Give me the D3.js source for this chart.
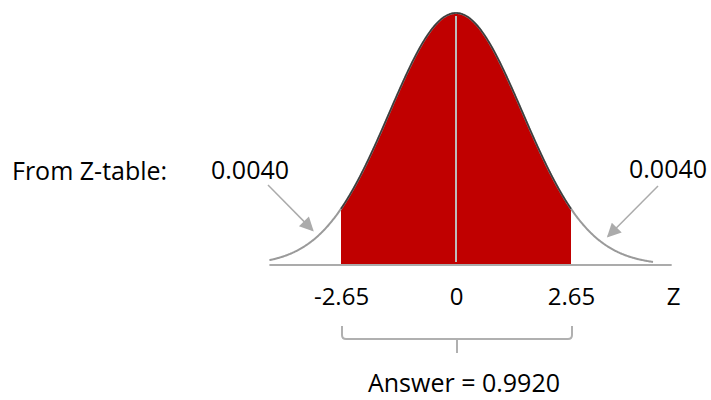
<!DOCTYPE html>
<html>
<head>
<meta charset="utf-8">
<script src="https://cdn.jsdelivr.net/npm/d3@7"></script>
<style>
  body { margin: 0; background: #fff; }
  text { font-family: "Open Sans", sans-serif; fill: #000; }
</style>
</head>
<body>
<div id="chart"></div>
<script>
const width = 711
const height = 400

// chart values
const zCritical = [-2.65, 2.65]
const tickValues = [-2.65, 0, 2.65]
const tailLabels = ["0.0040", "0.0040"]
const tableLabel = "From Z-table:"
const answerLabel = "Answer = 0.9920"
const axisLabel = "Z"
const curveMean = 0
const curveSd = 1.53          // schematic spread of the drawn bell
const curveExtent = [-4.3, 4.55]
const axisExtent = [-4.3, 4.97]

const x = d3.scaleLinear()
            .domain(zCritical)
            .range([341, 571])
const y = d3.scaleLinear()
            .domain([0, 1])
            .range([265, 13])

const bell = z => Math.exp(-((z - curveMean) ** 2) / (2 * curveSd * curveSd))

const curvePts = d3.range(curveExtent[0], curveExtent[1] + 0.001, 0.02).map(z => [z, bell(z)])
const inside = curvePts.filter(d => d[0] >= zCritical[0] && d[0] <= zCritical[1])
inside.unshift([zCritical[0], bell(zCritical[0])])
inside.push([zCritical[1], bell(zCritical[1])])

const svg = d3.select("#chart")
              .append("svg")
              .attr("width", width)
              .attr("height", height)

// red shaded area
const area = d3.area()
               .x(d => x(d[0]))
               .y0(y(0))
               .y1(d => y(d[1]))
svg.append("path")
   .datum(inside)
   .attr("d", area)
   .attr("fill", "#c00000")

const line = d3.line()
               .x(d => x(d[0]))
               .y(d => y(d[1]))
               .curve(d3.curveBasis)

// centre line
svg.append("line")
   .attr("x1", x(curveMean)).attr("x2", x(curveMean))
   .attr("y1", y(0) - 3).attr("y2", y(bell(curveMean)) + 3)
   .attr("stroke", "#bdbdbd")
   .attr("stroke-width", 2)

// baseline
svg.append("line")
   .attr("x1", x(axisExtent[0])).attr("x2", x(axisExtent[1]))
   .attr("y1", y(0)).attr("y2", y(0))
   .attr("stroke", "#ababab")
   .attr("stroke-width", 2)

// bell curve
svg.append("path")
   .datum(curvePts)
   .attr("d", line)
   .attr("fill", "none")
   .attr("stroke", "#9a9a9a")
   .attr("stroke-width", 2)
svg.append("path")
   .datum(inside)
   .attr("d", line)
   .attr("fill", "none")
   .attr("stroke", "#3c3c3c")
   .attr("stroke-width", 1.6)

// tick labels
const axis = d3.axisBottom(x)
               .tickValues(tickValues)
               .tickSize(0)
               .tickPadding(23)
               .tickFormat(d => String(d))
const gAxis = svg.append("g")
                 .attr("transform", "translate(0," + y(0) + ")")
                 .call(axis)
gAxis.select(".domain").remove()
gAxis.selectAll("text")
     .style("font-family", '"Open Sans", sans-serif')
     .style("font-size", "24px")
     .attr("fill", "#000")

svg.append("text")
   .attr("x", x(axisExtent[1]) + 2)
   .attr("y", 305)
   .attr("text-anchor", "middle")
   .style("font-size", "24px")
   .text(axisLabel)

// bracket under the interval
const bx0 = x(zCritical[0]) + 1, bx1 = x(zCritical[1]) + 1, bmid = x(curveMean) + 1
const bTop = 326, bBar = 339, bTip = 353, r = 4
svg.append("path")
   .attr("d", `M${bx0},${bTop} V${bBar - r} Q${bx0},${bBar} ${bx0 + r},${bBar} H${bx1 - r} Q${bx1},${bBar} ${bx1},${bBar - r} V${bTop}
              M${bmid},${bBar} V${bTip}`)
   .attr("fill", "none")
   .attr("stroke", "#b0b0b0")
   .attr("stroke-width", 2)

svg.append("text")
   .attr("x", 464)
   .attr("y", 392)
   .attr("text-anchor", "middle")
   .style("font-size", "25px")
   .text(answerLabel)

// annotations
svg.append("text")
   .attr("x", 12)
   .attr("y", 180)
   .style("font-size", "25px")
   .text(tableLabel)

svg.append("text")
   .attr("x", 250)
   .attr("y", 179)
   .attr("text-anchor", "middle")
   .style("font-size", "25px")
   .text(tailLabels[0])
svg.append("text")
   .attr("x", 668)
   .attr("y", 178)
   .attr("text-anchor", "middle")
   .style("font-size", "25px")
   .text(tailLabels[1])

svg.append("defs")
   .append("marker")
   .attr("id", "head")
   .attr("viewBox", "0 0 10 10")
   .attr("refX", 9)
   .attr("refY", 5)
   .attr("markerUnits", "userSpaceOnUse")
   .attr("markerWidth", 16)
   .attr("markerHeight", 14)
   .attr("orient", "auto")
   .append("path")
   .attr("d", "M0,0 L10,5 L0,10 Z")
   .attr("fill", "#ababab")

const arrows = [
  { from: [268, 185], z: -3.3 },
  { from: [658, 186], z: 3.5 }
]
svg.selectAll(".arrow")
   .data(arrows)
   .enter()
   .append("line")
   .attr("class", "arrow")
   .attr("x1", d => d.from[0])
   .attr("y1", d => d.from[1])
   .attr("x2", d => x(d.z))
   .attr("y2", d => y(bell(d.z)) - 10)
   .attr("stroke", "#ababab")
   .attr("stroke-width", 1.5)
   .attr("marker-end", "url(#head)")
</script>
</body>
</html>
